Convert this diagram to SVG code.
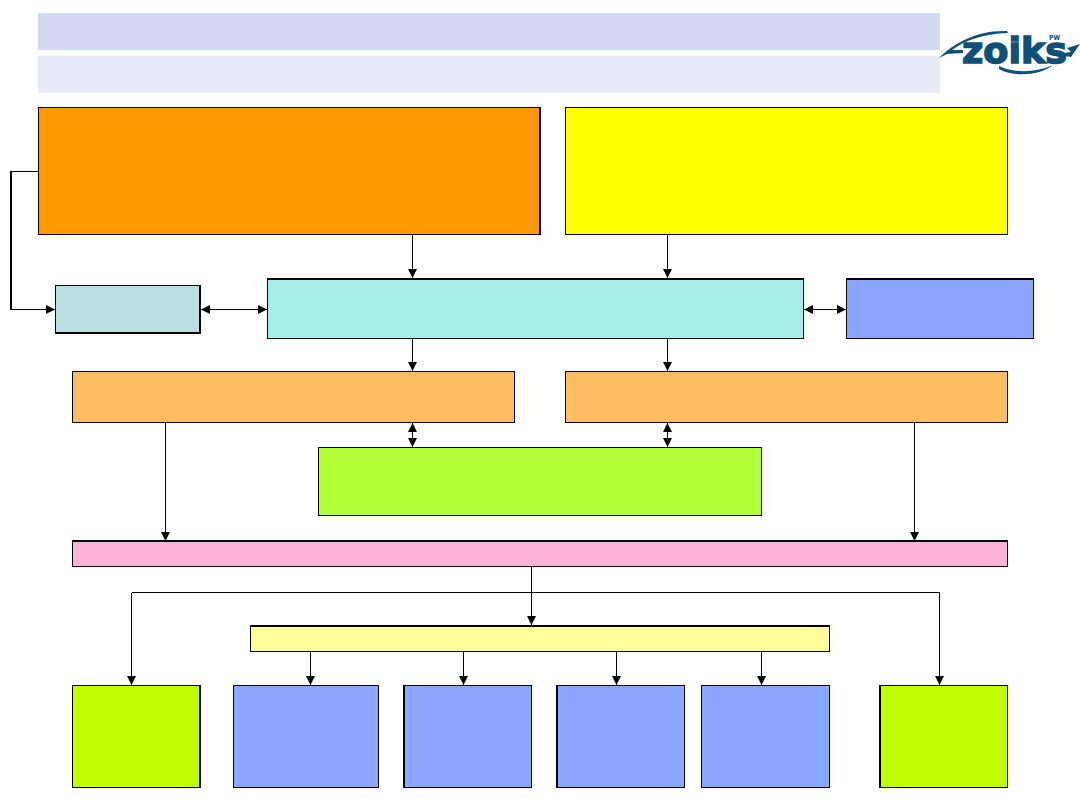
<svg xmlns="http://www.w3.org/2000/svg" width="1080" height="810" viewBox="0 0 1080 810">
<style>
  .box { stroke: #000; stroke-width: 1; shape-rendering: crispEdges; }
  .edge { fill: #000; shape-rendering: crispEdges; }
  .link { fill: none; stroke: #000; stroke-width: 1; shape-rendering: crispEdges; }
  .logo { fill: #0f5078; font-family: "DejaVu Sans", sans-serif; font-weight: 700; }
  .wing { fill: #0f5078; }
</style>
<defs>
  <marker id="head" markerUnits="userSpaceOnUse" markerWidth="9" markerHeight="9" refX="9" refY="4.500" orient="auto-start-reverse">
    <path d="M0 0L9 4.500L0 9Z" fill="#000"/>
  </marker>
</defs>
<rect width="1080" height="810" fill="#fff"/>

<g id="title-bar-1"><rect x="38" y="13" width="902" height="37" fill="#d5daf3"/></g>
<g id="title-bar-2"><rect x="38" y="56" width="902" height="37" fill="#e8eaf7"/></g>

<g id="logo">
  <path class="wing" d="M939 58 C953 44 976 30 1007 31 L1008 33 C982 34 966 40 952 50 L963 50 L963 53 L947 54 Z"/>
  <path class="wing" d="M1067 48 L1080 44 L1071 57 L1064 56 L1064 53 L1071 52 Z"/>
  <path class="wing" d="M999 66 C1012 73 1036 73 1053 65 C1040 76 1012 77 999 69 Z"/>
  <text class="logo" x="962" y="63" font-size="35" textLength="105" lengthAdjust="spacingAndGlyphs" stroke="#0f5078" stroke-width="1.500">zoiks</text>
  <text class="logo" x="1049" y="40" font-size="7" textLength="11" lengthAdjust="spacingAndGlyphs">PW</text>
</g>

<g id="node-orange"><rect class="box" x="38.500" y="107.500" width="502" height="127" fill="#ff9900"/><rect class="edge" x="539" y="107" width="2" height="128"/></g>
<g id="node-yellow"><rect class="box" x="565.500" y="107.500" width="442" height="127" fill="#ffff00"/></g>
<g id="node-pale-teal"><rect class="box" x="55.500" y="285.500" width="145" height="47" fill="#bbe0e3"/><rect class="edge" x="55" y="332" width="146" height="2"/><rect class="edge" x="199" y="285" width="2" height="49"/></g>
<g id="node-aqua"><rect class="box" x="267.500" y="278.500" width="536" height="60" fill="#a6ecea"/><rect class="edge" x="267" y="278" width="537" height="2"/></g>
<g id="node-periwinkle"><rect class="box" x="846.500" y="278.500" width="187" height="60" fill="#8ba6ff"/><rect class="edge" x="846" y="278" width="188" height="2"/></g>
<g id="node-peach-left"><rect class="box" x="72.500" y="371.500" width="442" height="51" fill="#ffbd61"/></g>
<g id="node-peach-right"><rect class="box" x="565.500" y="371.500" width="442" height="51" fill="#ffbd61"/></g>
<g id="node-lime-wide"><rect class="box" x="318.500" y="447.500" width="443" height="68" fill="#b2ff38"/></g>
<g id="node-pink"><rect class="box" x="72.500" y="541.500" width="935" height="25" fill="#ffb1d8"/><rect class="edge" x="72" y="540" width="936" height="2"/></g>
<g id="node-pale-yellow"><rect class="box" x="250.500" y="625.500" width="579" height="26" fill="#ffff99"/><rect class="edge" x="250" y="625" width="580" height="2"/></g>
<g id="node-lime-left"><rect class="box" x="72.500" y="685.500" width="127" height="102" fill="#bfff00"/><rect class="edge" x="199" y="685" width="2" height="103"/></g>
<g id="node-blue-1"><rect class="box" x="233.500" y="685.500" width="145" height="102" fill="#8ba6ff"/></g>
<g id="node-blue-2"><rect class="box" x="403.500" y="685.500" width="128" height="102" fill="#8ba6ff"/><rect class="edge" x="403" y="685" width="2" height="103"/></g>
<g id="node-blue-3"><rect class="box" x="556.500" y="685.500" width="128" height="102" fill="#8ba6ff"/><rect class="edge" x="556" y="685" width="2" height="103"/></g>
<g id="node-blue-4"><rect class="box" x="701.500" y="685.500" width="128" height="102" fill="#8ba6ff"/></g>
<g id="node-lime-right"><rect class="box" x="879.500" y="685.500" width="128" height="102" fill="#bfff00"/><rect class="edge" x="879" y="685" width="2" height="103"/></g>

<g id="connectors">
  <path class="link" d="M38 171.500H11.500V309.500H55" marker-end="url(#head)"/>
  <rect class="edge" x="10" y="171" width="2" height="139"/>
  <path class="link" d="M412.500 235V278" marker-end="url(#head)"/>
  <path class="link" d="M667.500 235V278" marker-end="url(#head)"/>
  <path class="link" d="M201 309.500H267" marker-start="url(#head)" marker-end="url(#head)"/>
  <path class="link" d="M804 309.500H846" marker-start="url(#head)" marker-end="url(#head)"/>
  <path class="link" d="M412.500 338V371" marker-end="url(#head)"/>
  <path class="link" d="M667.500 338V371" marker-end="url(#head)"/>
  <path class="link" d="M412.500 423V447" marker-start="url(#head)" marker-end="url(#head)"/>
  <path class="link" d="M667.500 423V447" marker-start="url(#head)" marker-end="url(#head)"/>
  <path class="link" d="M165.500 423V541" marker-end="url(#head)"/>
  <path class="link" d="M914.500 423V541" marker-end="url(#head)"/>
  <path class="link" d="M531.500 567V625" marker-end="url(#head)"/>
  <path class="link" d="M131.500 592.500H939.500V685" marker-end="url(#head)"/>
  <path class="link" d="M131.500 592.500V685" marker-end="url(#head)"/>
  <path class="link" d="M310.500 652V685" marker-end="url(#head)"/>
  <path class="link" d="M463.500 652V685" marker-end="url(#head)"/>
  <path class="link" d="M616.500 652V685" marker-end="url(#head)"/>
  <path class="link" d="M761.500 652V685" marker-end="url(#head)"/>
</g>
</svg>
